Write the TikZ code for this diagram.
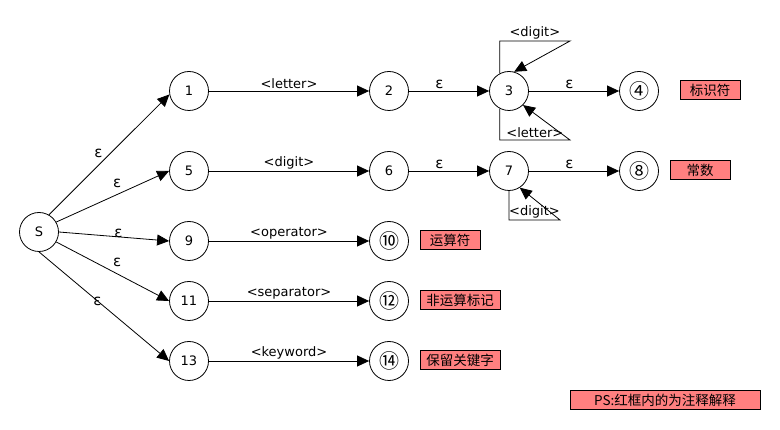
\documentclass[tikz,border=0pt]{standalone}
\usepackage{fontspec}
\setmainfont{DejaVu Sans}
\newfontfamily\cjk{Noto Sans CJK SC}
\usetikzlibrary{arrows.meta}
\definecolor{notered}{HTML}{FF8080}

\tikzset{
	stnode/.style={draw,circle,minimum size=39pt,inner sep=0pt,font=\fontsize{13}{15}\selectfont},
	finnode/.style={stnode,font=\cjk\fontsize{20}{22}\selectfont},
	note/.style={draw,fill=notered,minimum height=19pt,inner sep=0pt,font=\cjk\fontsize{13.5}{15}\selectfont},
	tr/.style={-{Triangle[length=12pt,width=11pt]}},
	lab/.style={font=\fontsize{13}{15}\selectfont,inner sep=1.5pt},
	eps/.style={lab,font=\fontsize{15}{17}\selectfont}
}

\begin{document}
\begin{tikzpicture}[x=1pt,y=-1pt,line width=0.8pt]
	\useasboundingbox (0,0) rectangle (780,430);
	% states
	\node[stnode] (S) at (39,232) {S};
	\node[stnode] (n1) at (189,91) {1};
	\node[stnode] (n2) at (389,91) {2};
	\node[stnode] (n3) at (509,91) {3};
	\node[finnode] (n4) at (639,91) {④};
	\node[stnode] (n5) at (189,171) {5};
	\node[stnode] (n6) at (389,171) {6};
	\node[stnode] (n7) at (509,171) {7};
	\node[finnode] (n8) at (639,171) {⑧};
	\node[stnode] (n9) at (189,241) {9};
	\node[finnode] (n10) at (389,241) {⑩};
	\node[stnode] (n11) at (189,301) {11};
	\node[finnode] (n12) at (389,301) {⑫};
	\node[stnode] (n13) at (189,361) {13};
	\node[finnode] (n14) at (389,361) {⑭};
	% epsilon moves from S
	\draw[tr] (S.60) -- node[eps,pos=0.41,above=6pt] {ε} (n1.190);
	\draw[tr] (S.30) -- node[eps,pos=0.54,above=5pt] {ε} (n5.west);
	\draw[tr] (S.east) -- node[eps,pos=0.54,above=-3pt] {ε} (n9.west);
	\draw[tr] (S.-30) -- node[eps,pos=0.54,above=5pt] {ε} (n11.west);
	\draw[tr] (S.south) -- node[eps,pos=0.45] {ε} (n13.west);
	% rows
	\draw[tr] (n1) -- node[lab,above] {<letter>} (n2);
	\draw[tr] (n2) -- node[eps,pos=0.38,above] {ε} (n3);
	\draw[tr] (n3) -- node[eps,pos=0.45,above] {ε} (n4);
	\draw[tr] (n5) -- node[lab,above] {<digit>} (n6);
	\draw[tr] (n6) -- node[eps,pos=0.38,above] {ε} (n7);
	\draw[tr] (n7) -- node[eps,pos=0.45,above] {ε} (n8);
	\draw[tr] (n9) -- node[lab,above] {<operator>} (n10);
	\draw[tr] (n11) -- node[lab,above] {<separator>} (n12);
	\draw[tr] (n13) -- node[lab,above] {<keyword>} (n14);
	% loops
	\coordinate (t3) at (570,41);
	\coordinate (b3) at (570,140);
	\coordinate (b7) at (560,220);
	\draw[tr] (n3.118) |- node[lab,pos=0.75,above] {<digit>} (t3) -- (n3.75);
	\draw[tr] (n3.242) |- node[lab,pos=0.75,above] {<letter>} (b3) -- (n3.-45);
	\draw[tr] (n7.south) |- node[lab,pos=0.75,above] {<digit>} (b7) -- (n7.-57);
	% notes
	\node[note,minimum width=60pt] (c4) at (710,90) {标识符};
	\node[note,minimum width=60pt] (c8) at (700,170) {常数};
	\node[note,minimum width=60pt] (c10) at (450,240) {运算符};
	\node[note,minimum width=80pt] (c12) at (460,300) {非运算标记};
	\node[note,minimum width=80pt] (c14) at (460,360) {保留关键字};
	\node[note,minimum width=190pt] (ps) at (665,400) {PS:红框内的为注释解释};
\end{tikzpicture}
\end{document}
